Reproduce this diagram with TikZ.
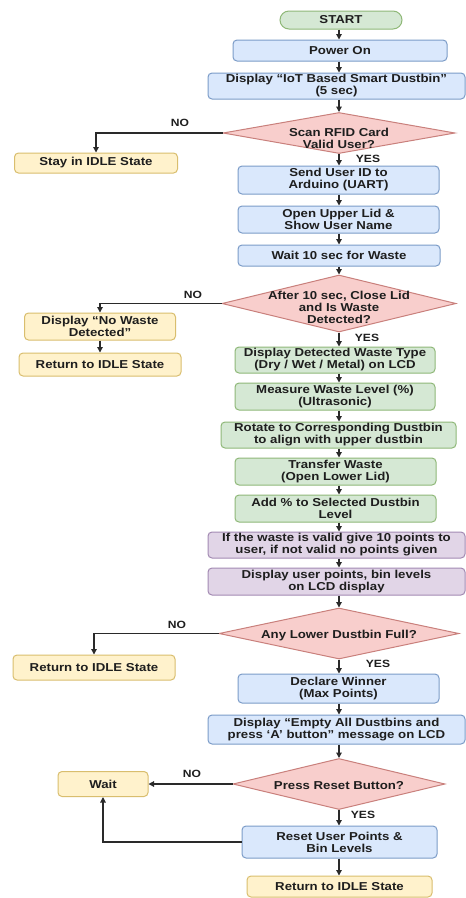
\documentclass[tikz,border=0pt]{standalone}
\usepackage{fontspec}
\setmainfont{Liberation Sans}[FakeStretch=1.15]
\usetikzlibrary{arrows.meta,shapes.geometric,calc}
\definecolor{bfill}{HTML}{DAE8FC}\definecolor{bdraw}{HTML}{7C9CC8}
\definecolor{gfill}{HTML}{D5E8D4}\definecolor{gdraw}{HTML}{8FB878}
\definecolor{pfill}{HTML}{F8CECC}\definecolor{pdraw}{HTML}{C9807C}
\definecolor{yfill}{HTML}{FFF2CC}\definecolor{ydraw}{HTML}{D9BE6E}
\definecolor{vfill}{HTML}{E1D5E7}\definecolor{vdraw}{HTML}{A38AB3}
\definecolor{txt}{HTML}{1E1E1E}
\definecolor{lin}{HTML}{2A2A2A}
\begin{document}
\begin{tikzpicture}[x=1pt,y=-1pt,
  box/.style={draw, rounded corners=4pt, line width=1pt, align=center, inner sep=0pt,
    font=\bfseries\fontsize{11.5}{12}\selectfont, text=txt},
  bluebox/.style={box, fill=bfill, draw=bdraw},
  greenbox/.style={box, fill=gfill, draw=gdraw},
  yelbox/.style={box, fill=yfill, draw=ydraw},
  purbox/.style={box, fill=vfill, draw=vdraw},
  dia/.style={diamond, draw=pdraw, fill=pfill, line width=1pt, inner sep=0pt},
  dtext/.style={align=center, inner sep=0pt, font=\bfseries\fontsize{11.5}{12}\selectfont, text=txt},
  lbl/.style={inner sep=0pt, font=\bfseries\fontsize{10.5}{12}\selectfont, text=txt},
  arr/.style={draw=lin, line width=1.2pt, -{Triangle[length=5.5pt,width=5.5pt]}},
  lineonly/.style={draw=lin, line width=1.2pt}
]
\useasboundingbox (0,0) rectangle (466,898);
\fill[white] (0,0) rectangle (466,898);
\coordinate (col) at (339,0);

\node[greenbox, rounded corners=9pt, minimum width=122pt, minimum height=18pt] (start) at (341,20) {START};
\node[bluebox, minimum width=214pt, minimum height=21pt] (power) at (340,50.5) {Power On};
\node[bluebox, minimum width=257pt, minimum height=26pt] (disp) at (336.5,86) {Display “IoT Based Smart Dustbin”\\(5 sec)};
\node[dia, minimum width=232pt, minimum height=41pt] (d1) at (339,133) {};
\node[dtext] (d1t) at (339,138.5) {Scan RFID Card\\Valid User?};
\node[yelbox, minimum width=163pt, minimum height=20pt] (idle1) at (96,163) {Stay in IDLE State};
\node[bluebox, minimum width=201pt, minimum height=28pt] (send) at (338.5,180) {Send User ID to\\Arduino (UART)};
\node[bluebox, minimum width=201pt, minimum height=27pt] (open) at (338.5,219.5) {Open Upper Lid \&\\Show User Name};
\node[bluebox, minimum width=202pt, minimum height=21pt] (wait10) at (339,255.5) {Wait 10 sec for Waste};
\node[dia, minimum width=234pt, minimum height=57pt] (d2) at (339,303.5) {};
\node[dtext] (d2t) at (339,307) {After 10 sec, Close Lid\\and Is Waste\\Detected?};
\node[yelbox, minimum width=151pt, minimum height=27pt] (nowaste) at (100,326.5) {Display “No Waste\\Detected”};
\node[yelbox, minimum width=162pt, minimum height=23pt] (ret1) at (100,364.5) {Return to IDLE State};
\node[greenbox, minimum width=200pt, minimum height=26pt] (det) at (335,360) {Display Detected Waste Type\\(Dry / Wet / Metal) on LCD};
\node[greenbox, minimum width=200pt, minimum height=27pt] (meas) at (335,396.5) {Measure Waste Level (\%)\\(Ultrasonic)};
\node[greenbox, minimum width=235pt, minimum height=26pt] (rot) at (338.5,435) {Rotate to Corresponding Dustbin\\to align with upper dustbin};
\node[greenbox, minimum width=201pt, minimum height=27pt] (trans) at (335.5,471.5) {Transfer Waste\\(Open Lower Lid)};
\node[greenbox, minimum width=201pt, minimum height=27pt] (add) at (335.5,508.5) {Add \% to Selected Dustbin\\Level};
\node[purbox, minimum width=257pt, minimum height=26pt] (valid) at (336.5,545) {If the waste is valid give 10 points to\\user, if not valid no points given};
\node[purbox, minimum width=257pt, minimum height=27pt] (show) at (336.5,581.5) {Display user points, bin levels\\on LCD display};
\node[dia, minimum width=240pt, minimum height=51pt] (d3) at (339,633.5) {};
\node[dtext] (d3t) at (339,636) {Any Lower Dustbin Full?};
\node[yelbox, minimum width=162pt, minimum height=25pt] (ret2) at (94,667.5) {Return to IDLE State};
\node[bluebox, minimum width=201pt, minimum height=29pt] (winner) at (338.5,688.5) {Declare Winner\\(Max Points)};
\node[bluebox, minimum width=257pt, minimum height=29pt] (empty) at (336.5,729.5) {Display “Empty All Dustbins and\\press ‘A’ button” message on LCD};
\node[dia, minimum width=212pt, minimum height=51pt] (d4) at (339,784) {};
\node[dtext] (d4t) at (339,786) {Press Reset Button?};
\node[yelbox, minimum width=90pt, minimum height=25pt] (wait) at (103,784) {Wait};
\node[bluebox, minimum width=195pt, minimum height=32pt] (reset) at (339.5,842) {Reset User Points \&\\Bin Levels};
\node[yelbox, minimum width=185pt, minimum height=21pt] (ret3) at (339.5,886.5) {Return to IDLE State};

% labels
\node[lbl] (no1) at (180,123) {NO};
\node[lbl] (yes1) at (368,159) {YES};
\node[lbl] (no2) at (193,295) {NO};
\node[lbl] (yes2) at (367,338) {YES};
\node[lbl] (no3) at (177,625) {NO};
\node[lbl] (yes3) at (378,664) {YES};
\node[lbl] (no4) at (192,774) {NO};
\node[lbl] (yes4) at (363,815) {YES};

% main column
\foreach \a/\b in {start/power, power/disp, disp/d1, d1/send, send/open, open/wait10, wait10/d2,
  d2/det, det/meas, meas/rot, rot/trans, trans/add, add/valid, valid/show, show/d3,
  d3/winner, winner/empty, empty/d4, d4/reset, reset/ret3}
  \draw[arr] (\a.south -| col) -- (\b.north -| col);

% branches
\draw[arr] (d1.west) -| (idle1.north);
\draw[arr] (d2.west) -| (nowaste.north);
\draw[arr] (nowaste.south) -- (ret1.north);
\draw[arr] (d3.west) -| (ret2.north);
\draw[arr] (d4.west) -- (wait.east);
\draw[arr] (reset.west) -| (wait.south);
\end{tikzpicture}
\end{document}
